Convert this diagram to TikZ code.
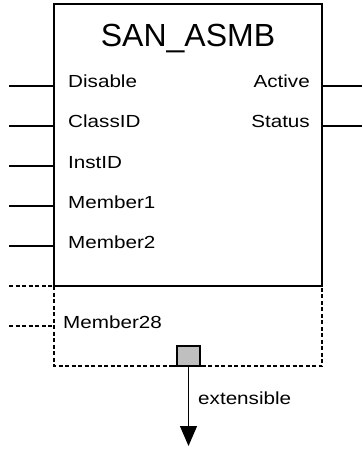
\documentclass[tikz,border=0pt]{standalone}
\usepackage{fontspec}
\setmainfont{Liberation Sans}
\newfontfamily\pinfont[FakeStretch=1.18]{Liberation Sans}
\usetikzlibrary{arrows.meta}
\begin{document}
\begin{tikzpicture}[x=1pt,y=-1pt,
  wire/.style={line width=1.2pt},
  dwire/.style={line width=1.3pt, dash pattern=on 4pt off 2.5pt},
  pinlbl/.style={font=\pinfont\fontsize{17.5}{20}\selectfont, inner sep=0pt},
]
\useasboundingbox (0,0) rectangle (362,449);

% function block body
\node[draw, line width=1.3pt, minimum width=268pt, minimum height=282pt,
      anchor=north west, inner sep=0pt, outer sep=0pt] (blk) at (54,4) {};
\node[font=\fontsize{32}{36}\selectfont, inner sep=0pt, anchor=base]
      (title) at (188,46.7) {SAN\_ASMB};

% input pins
\foreach \n/\y/\t in {1/86/Disable, 2/126/ClassID, 3/166/InstID,
                       4/206/Member1, 5/246/Member2}{
  \coordinate (in\n) at (9,\y);
  \draw[wire] (in\n) -- (in\n -| blk.west);
  \node[pinlbl, anchor=base west] (lin\n) at (68,\y+2) {\t};
}

% output pins
\foreach \n/\y/\t in {1/86/Active, 2/126/Status}{
  \coordinate (out\n) at (362,\y);
  \draw[wire] (out\n -| blk.east) -- (out\n);
  \node[pinlbl, anchor=base east] (lout\n) at (310,\y+2) {\t};
}

% extensible region
\coordinate (xsw) at (54,366);
\coordinate (xse) at (322,366);
\draw[dwire] (blk.south west) -- (xsw) -- (xse) -- (blk.south east);
\coordinate (in6) at (9,286);
\draw[dwire] (in6) -- (in6 -| blk.west);
\coordinate (in28) at (9,326);
\draw[dwire] (in28) -- (in28 -| xsw);
\node[pinlbl, anchor=base west] (lin28) at (63,328) {Member28};

% extension connector
\node[draw, line width=1.2pt, fill=black!25, minimum width=23pt,
      minimum height=20pt, inner sep=0pt, outer sep=0pt, anchor=south]
      (ext) at (188.5,366) {};
\coordinate (extl) at (173,366);
\coordinate (extr) at (204,366);
\draw[wire] (extl) -- (extr);
\coordinate (tip) at (188.5,446);
\draw[wire, -{Triangle[length=20pt,width=17pt]}] (ext.south) -- (tip);
\node[pinlbl, anchor=base west] (extlbl) at (198,404) {extensible};
\end{tikzpicture}
\end{document}
